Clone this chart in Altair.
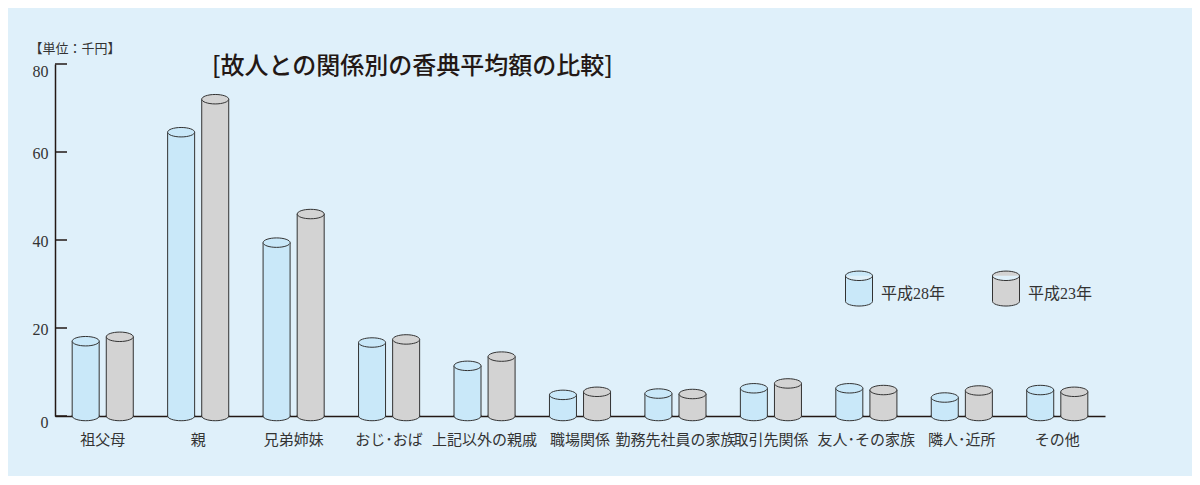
import altair as alt
import pandas as pd

categories = ["祖父母", "親", "兄弟姉妹", "おじ･おば", "上記以外の親戚", "職場関係",
              "勤務先社員の家族", "取引先関係", "友人･その家族", "隣人･近所", "その他"]
series = ["平成28年", "平成23年"]
h28 = [17.0, 64.5, 39.4, 16.7, 11.4, 4.8, 5.1, 6.3, 6.3, 4.2, 5.9]
h23 = [18.0, 72.0, 45.9, 17.4, 13.5, 5.5, 5.0, 7.4, 5.9, 5.8, 5.5]
y_ticks = [0, 20, 40, 60, 80]

rows = []
for c, a, b in zip(categories, h28, h23):
    rows.append({"cat": c, "series": series[0], "value": a})
    rows.append({"cat": c, "series": series[1], "value": b})
df = pd.DataFrame(rows)
ticks_df = pd.DataFrame({"value": y_ticks})

BG = "#dff0fa"
INK = "#231815"
TXT = "#333333"
COLORS = ["#c9e8f9", "#d3d3d3"]
SERIF_JP = "'Liberation Serif', 'Noto Sans CJK JP'"

TOP_ELLIPSE = "M -1 0 A 1 0.35 0 1 1 1 0 A 1 0.35 0 1 1 -1 0 Z"
BOTTOM_HALF = "M -1 -0.08 L -1 0 A 1 0.35 0 0 0 1 0 L 1 -0.08"
LEGEND_CYL = ("M -1 -1.345 A 1 0.35 0 0 1 1 -1.345 L 1 0.545 A 1 0.35 0 0 1 -1 0.545 Z "
              "M -1 -1.345 A 1 0.35 0 0 0 1 -1.345")

y_axis = alt.Axis(
    values=y_ticks, grid=False, ticks=False, domain=True,
    domainColor=INK, domainWidth=1.5,
    labelFont="Liberation Serif", labelFontSize=16, labelColor=TXT,
    labelPadding=7,
    labelOffset=alt.expr("datum.value == 80 ? 7 : (datum.value == 0 ? 6 : 1)"),
    title="【単位：千円】", titleAngle=0, titleX=-26, titleY=-16,
    titleAlign="left", titleBaseline="middle",
    titleFont="Noto Sans CJK JP", titleFontSize=13, titleFontWeight="normal",
    titleColor=TXT,
)

def Y(field="value:Q"):
    return alt.Y(field, scale=alt.Scale(domain=[0, 80], nice=False), axis=y_axis)

x_enc = alt.X(
    "cat:N", sort=categories,
    scale=alt.Scale(paddingInner=0, paddingOuter=0),
    axis=alt.Axis(
        title=None, ticks=False, tickSize=0, grid=False, domain=True,
        domainColor=INK, domainWidth=1.5, labelAngle=0, labelOverlap=False,
        labelFont="Noto Sans CJK JP", labelFontSize=15, labelColor=TXT,
        labelPadding=16,
    ),
)
xoff_enc = alt.XOffset("series:N", sort=series,
                       scale=alt.Scale(paddingInner=0, paddingOuter=0.4))
fill_enc = alt.Fill(
    "series:N", sort=series,
    scale=alt.Scale(domain=series, range=COLORS),
    legend=alt.Legend(
        title=None, orient="none", legendX=790, legendY=215.5,
        direction="horizontal", symbolType=LEGEND_CYL, symbolSize=729,
        symbolStrokeColor=TXT, symbolStrokeWidth=1, symbolOpacity=1,
        labelFont=SERIF_JP, labelFontSize=16,
        labelColor=TXT, labelOffset=8, columnPadding=44, padding=0,
    ),
)

base = alt.Chart(df)

bars = base.mark_bar(width=27, stroke=TXT, strokeWidth=1, opacity=1).encode(
    x=x_enc, xOffset=xoff_enc, y=Y(), fill=fill_enc,
)
bottoms = base.mark_point(shape=BOTTOM_HALF, size=729, filled=True, stroke=TXT,
                          strokeWidth=1, opacity=1).encode(
    x=x_enc, xOffset=xoff_enc, y=alt.datum(0), fill=fill_enc,
)
tops = base.mark_point(shape=TOP_ELLIPSE, size=729, filled=True, stroke=TXT,
                       strokeWidth=1, opacity=1).encode(
    x=x_enc, xOffset=xoff_enc, y=Y(), fill=fill_enc,
)
tick_rules = alt.Chart(ticks_df).mark_rule(color=INK, strokeWidth=1.5).encode(
    y=Y(), x=alt.value(0), x2=alt.value(12),
)

chart = alt.layer(tick_rules, bars, bottoms, tops).properties(
    width=1050, height=352,
    title=alt.TitleParams(
        "[故人との関係別の香典平均額の比較]", anchor="start", frame="group",
        font="Noto Sans CJK JP", fontSize=24, fontWeight=500, color=INK,
        dx=157, dy=49, offset=0, baseline="middle",
    ),
    autosize=alt.AutoSizeParams(type="none"),
    padding={"left": 47, "top": 56, "right": 87, "bottom": 60},
    background=BG,
).configure_view(stroke=None)

chart.save("out.html", embed_options={"renderer": "svg", "actions": False})
